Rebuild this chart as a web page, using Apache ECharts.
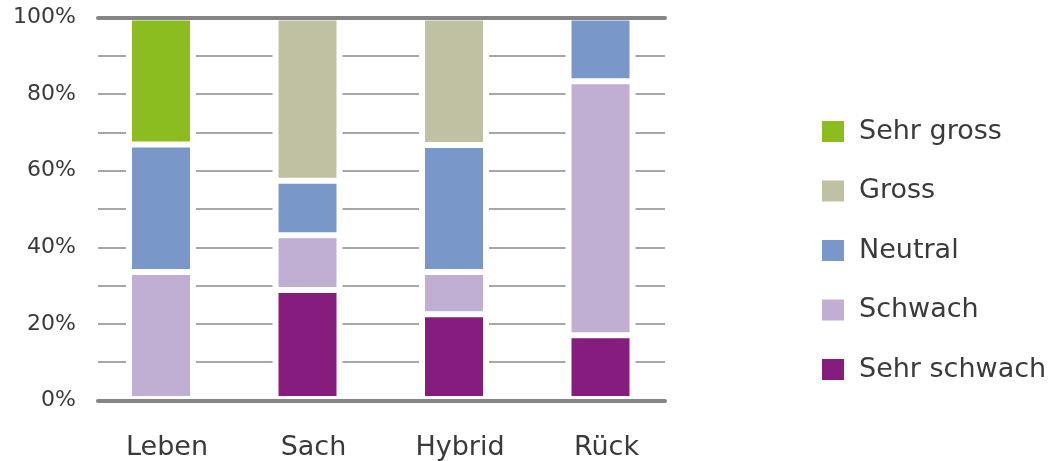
<!DOCTYPE html>
<html>
<head>
<meta charset="utf-8">
<script src="https://cdn.jsdelivr.net/npm/echarts@6/dist/echarts.min.js"></script>
<style>
  html, body { margin: 0; padding: 0; background: #ffffff; }
  #chart { width: 1059px; height: 461px; }
</style>
</head>
<body>
<div id="chart"></div>
<script>
// Categories along the x axis
const categories = ['Leben', 'Sach', 'Hybrid', 'Rück'];

// Share of each rating per category, in percent (stacked bottom to top)
const sehrSchwach = [0, 28.6, 22.2, 16.7];
const schwach     = [33.3, 14.3, 11.1, 66.6];
const neutral     = [33.4, 14.3, 33.3, 16.7];
const gross       = [0, 42.8, 33.4, 0];
const sehrGross   = [33.3, 0, 0, 0];

// Full-height white backing behind every column (keeps gridlines clear of the bars)
const backing = [100, 100, 100, 100];

// Labelled ticks on the value axis
const yTickLabels = [0, 20, 40, 60, 80, 100];

const FONT = 'DejaVu Sans';
const TEXT = '#3a3a3a';

const seriesDefs = [
  { name: 'Sehr schwach', data: sehrSchwach, color: '#861c7e' },
  { name: 'Schwach',      data: schwach,     color: '#c0afd2' },
  { name: 'Neutral',      data: neutral,     color: '#7a97c9' },
  { name: 'Gross',        data: gross,       color: '#c0c1a2' },
  { name: 'Sehr gross',   data: sehrGross,   color: '#8bbd21' }
];

const chart = echarts.init(document.getElementById('chart'), null, { renderer: 'canvas' });

const barGrid = { left: 87.75, width: 586, top: 17.5, bottom: 60.5 };

const option = {
  animation: false,
  backgroundColor: '#ffffff',
  grid: [
    // frame with gridlines and the heavy top/bottom rules
    { left: 98, right: 394, top: 17.5, bottom: 60.5 },
    // coloured bars
    Object.assign({}, barGrid),
    // white backing columns
    Object.assign({}, barGrid)
  ],
  xAxis: [
    {
      gridIndex: 0, type: 'value', min: 0, max: 1, position: 'bottom', z: 10,
      axisLine: { show: true, onZero: false, lineStyle: { color: '#858585', width: 4 } },
      axisTick: { show: false }, axisLabel: { show: false }, splitLine: { show: false }
    },
    {
      gridIndex: 0, type: 'value', min: 0, max: 1, position: 'top', z: 10,
      axisLine: { show: true, onZero: false, lineStyle: { color: '#858585', width: 4 } },
      axisTick: { show: false }, axisLabel: { show: false }, splitLine: { show: false }
    },
    {
      gridIndex: 1, type: 'category', data: categories,
      axisLine: { show: false }, axisTick: { show: false },
      axisLabel: { color: TEXT, fontFamily: FONT, fontSize: 27, margin: 35, padding: [0, 0, 0, 12] }
    },
    {
      gridIndex: 2, type: 'category', data: categories, show: false
    }
  ],
  yAxis: [
    {
      gridIndex: 0, type: 'value', min: 0, max: 100, interval: 10,
      axisLine: { show: false }, axisTick: { show: false },
      axisLabel: {
        color: TEXT, fontFamily: FONT, fontSize: 22, margin: 22, padding: [5, 0, 0, 0],
        formatter: v => (yTickLabels.indexOf(v) >= 0 ? v + '%' : '')
      },
      splitLine: { show: true, lineStyle: { color: '#8a8a8a', width: 1.5 } }
    },
    { gridIndex: 1, type: 'value', min: 0, max: 100, show: false, splitLine: { show: false } },
    { gridIndex: 2, type: 'value', min: 0, max: 100, show: false, splitLine: { show: false } }
  ],
  legend: {
    orient: 'vertical',
    left: 817, top: 113,
    icon: 'rect',
    itemWidth: 22, itemHeight: 21,
    itemGap: 32.5,
    data: ['Sehr gross', 'Gross', 'Neutral', 'Schwach', 'Sehr schwach'],
    itemStyle: { borderWidth: 0 },
    textStyle: { color: TEXT, fontFamily: FONT, fontSize: 27, lineHeight: 27, padding: [0, 0, 0, 10] }
  },
  series: [
    {
      type: 'bar',
      name: 'backing',
      xAxisIndex: 3,
      yAxisIndex: 2,
      barWidth: 70,
      z: 1,
      silent: true,
      legendHoverLink: false,
      data: backing,
      itemStyle: { color: '#ffffff' }
    }
  ].concat(seriesDefs.map(s => ({
    name: s.name,
    type: 'bar',
    stack: 'total',
    xAxisIndex: 2,
    yAxisIndex: 1,
    barWidth: 64,
    z: 2,
    data: s.data,
    itemStyle: { color: s.color, borderColor: '#ffffff', borderWidth: 3 }
  })))
};

chart.setOption(option);
</script>
</body>
</html>
